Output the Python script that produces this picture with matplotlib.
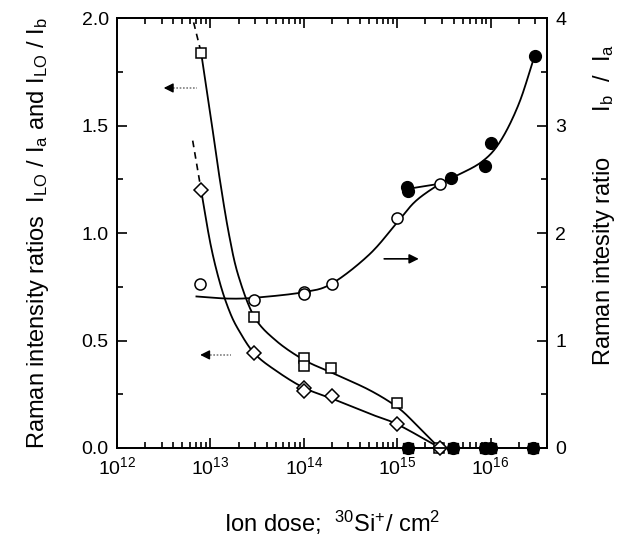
import numpy as np
import matplotlib
matplotlib.use('Agg')
import matplotlib.pyplot as plt
from matplotlib.ticker import MultipleLocator, LogLocator, NullFormatter

plt.rcParams['font.family'] = ['Liberation Sans', 'DejaVu Sans']
plt.rcParams['mathtext.fontset'] = 'custom'
plt.rcParams['mathtext.rm'] = 'Liberation Sans'
plt.rcParams['mathtext.it'] = 'Liberation Sans'

# I_LO / I_a  (open squares, left axis)
sq_x = [8e12, 2.9e13, 1e14, 1e14, 1.95e14, 1e15, 2.8e15]
sq_y = [1.84, 0.61, 0.42, 0.38, 0.37, 0.21, 0.0]
# I_LO / I_b  (open diamonds, left axis)
dm_x = [8e12, 2.9e13, 1e14, 1e14, 2e14, 1e15, 2.9e15]
dm_y = [1.20, 0.44, 0.28, 0.265, 0.24, 0.11, 0.0]
# I_b / I_a  (open circles, right axis)
oc_x = [7.8e12, 2.9e13, 1e14, 1e14, 2e14, 1e15, 2.9e15]
oc_y = [1.53, 1.38, 1.45, 1.43, 1.53, 2.14, 2.46]
# I_b / I_a  (filled circles, right axis)
fc_x = [1.27e15, 1.3e15, 3.8e15, 8.7e15, 1e16, 2.95e16]
fc_y = [2.43, 2.39, 2.51, 2.62, 2.84, 3.65]
# vanished LO signal (filled, zero)
zero_x = [1.3e15, 3.9e15, 8.7e15, 1e16, 2.85e16]

# fitted guide curves (log10 dose, value)
sq_fit_lx = [12.90, 13.0, 13.1, 13.2, 13.3, 13.47, 13.7, 14.0, 14.3, 14.7, 15.0, 15.2, 15.45]
sq_fit_y = [1.84, 1.55, 1.25, 0.99, 0.80, 0.61, 0.50, 0.41, 0.35, 0.27, 0.19, 0.11, 0.0]
dm_fit_lx = [12.90, 13.0, 13.1, 13.2, 13.3, 13.47, 13.7, 14.0, 14.3, 14.7, 15.0, 15.46]
dm_fit_y = [1.20, 0.95, 0.77, 0.64, 0.55, 0.44, 0.36, 0.28, 0.23, 0.16, 0.11, 0.0]
oc_fit_lx = [12.85, 13.2, 13.5, 14.0, 14.3, 14.7, 15.0, 15.2, 15.46, 15.6, 15.9, 16.1, 16.3, 16.47]
oc_fit_y = [1.41, 1.39, 1.40, 1.45, 1.53, 1.80, 2.10, 2.30, 2.46, 2.52, 2.66, 2.85, 3.2, 3.65]
sq_dash_lx = [12.82, 12.90]
sq_dash_y = [1.98, 1.84]
dm_dash_lx = [12.81, 12.90]
dm_dash_y = [1.43, 1.20]


def smooth(lx, y, n=20):
    # Catmull-Rom spline through the guide points
    p = np.column_stack([lx, y])
    p = np.vstack([p[0] * 2 - p[1], p, p[-1] * 2 - p[-2]])
    out = []
    t = np.linspace(0, 1, n, endpoint=False)[:, None]
    for i in range(1, len(p) - 2):
        p0, p1, p2, p3 = p[i - 1], p[i], p[i + 1], p[i + 2]
        seg = 0.5 * ((2 * p1) + (-p0 + p2) * t + (2 * p0 - 5 * p1 + 4 * p2 - p3) * t ** 2
                     + (-p0 + 3 * p1 - 3 * p2 + p3) * t ** 3)
        out.append(seg)
    out.append(p[-2][None, :])
    out = np.vstack(out)
    return 10 ** out[:, 0], out[:, 1]


fig = plt.figure(figsize=(6.36, 5.49), dpi=100)
ax = fig.add_axes([0.184, 0.184, 0.676, 0.783])
ax2 = ax.twinx()

# curves
x, y = smooth(sq_fit_lx, sq_fit_y)
ax.plot(x, y, color='black', lw=1.3)
x, y = smooth(dm_fit_lx, dm_fit_y)
ax.plot(x, y, color='black', lw=1.3)
ax.plot(10 ** np.array(sq_dash_lx), sq_dash_y, color='black', lw=1.2, ls=(0, (4, 3)))
ax.plot(10 ** np.array(dm_dash_lx), dm_dash_y, color='black', lw=1.2, ls=(0, (4, 3)))
x, y = smooth(oc_fit_lx, oc_fit_y)
ax2.plot(x, y, color='black', lw=1.3)
ax2.plot([1.27e15, 2.9e15], [2.41, 2.46], color='black', lw=1.3)

# markers
ax.plot(sq_x, sq_y, 's', ms=7.5, mfc='white', mec='black', mew=1.1, clip_on=False, zorder=5)
ax.plot(dm_x, dm_y, 'D', ms=7, mfc='white', mec='black', mew=1.1, clip_on=False, zorder=6)
ax.plot(zero_x, [0] * len(zero_x), 's', ms=7.5, color='black', clip_on=False, zorder=6)
ax.plot(zero_x, [0] * len(zero_x), 'o', ms=8.5, color='black', clip_on=False, zorder=6)
ax2.plot(oc_x, oc_y, 'o', ms=8, mfc='white', mec='black', mew=1.1, clip_on=False, zorder=5)
ax2.plot(fc_x, fc_y, 'o', ms=8.5, color='black', clip_on=False, zorder=5)

# arrows
ax.plot([10 ** 12.60, 10 ** 12.86], [1.675, 1.675], color='gray', lw=1.2, ls=(0, (1, 1)))
ax.annotate('', xy=(10 ** 12.47, 1.675), xytext=(10 ** 12.61, 1.675),
            arrowprops=dict(arrowstyle='-|>', color='black', lw=1, mutation_scale=14))
ax.plot([10 ** 12.99, 10 ** 13.22], [0.433, 0.433], color='gray', lw=1.2, ls=(0, (1, 1)))
ax.annotate('', xy=(10 ** 12.86, 0.433), xytext=(10 ** 13.0, 0.433),
            arrowprops=dict(arrowstyle='-|>', color='black', lw=1, mutation_scale=14))
ax2.annotate('', xy=(10 ** 15.26, 1.76), xytext=(10 ** 14.83, 1.76),
             arrowprops=dict(arrowstyle='-|>', color='black', lw=1.2, mutation_scale=14))

ax.set_xscale('log')
ax.set_xlim(1e12, 4e16)
ax.set_ylim(0, 2.0)
ax2.set_ylim(0, 4)
ax.xaxis.set_minor_locator(LogLocator(base=10, subs=np.arange(2, 10), numticks=20))
ax.xaxis.set_minor_formatter(NullFormatter())
ax.set_xticks([1e12, 1e13, 1e14, 1e15, 1e16])
ax.set_yticks([0.0, 0.5, 1.0, 1.5, 2.0])
ax.yaxis.set_minor_locator(MultipleLocator(0.25))
ax2.set_yticks([0, 1, 2, 3, 4])
ax2.yaxis.set_minor_locator(MultipleLocator(0.5))

for a in (ax, ax2):
    for s in a.spines.values():
        s.set_linewidth(1.3)
ax.tick_params(which='both', direction='in', top=True, right=False, labelsize=14, width=1.2)
ax.tick_params(which='major', length=7, pad=6)
ax.tick_params(which='minor', length=4)
ax2.tick_params(which='both', direction='in', labelsize=14, width=1.2)
ax2.tick_params(which='major', length=7, pad=6)
ax2.tick_params(which='minor', length=4)
ax.yaxis.set_major_formatter(plt.FuncFormatter(lambda v, p: f'{v:.1f}'))

ax.set_xlabel('Ion dose;  $^{30}$Si$^{+}$/ cm$^{2}$', fontsize=17, labelpad=22)
ax.set_ylabel('Raman intensity ratios  I$_{\\rm LO}$ / I$_{\\rm a}$ and I$_{\\rm LO}$ / I$_{\\rm b}$',
              fontsize=17, labelpad=22)
fig.text(0.950, 0.627, 'Raman intesity ratio       I$_{\\rm b}$  /  I$_{\\rm a}$', rotation=90,
         fontsize=17, ha='center', va='center')

fig.savefig('out.png', dpi=100)
